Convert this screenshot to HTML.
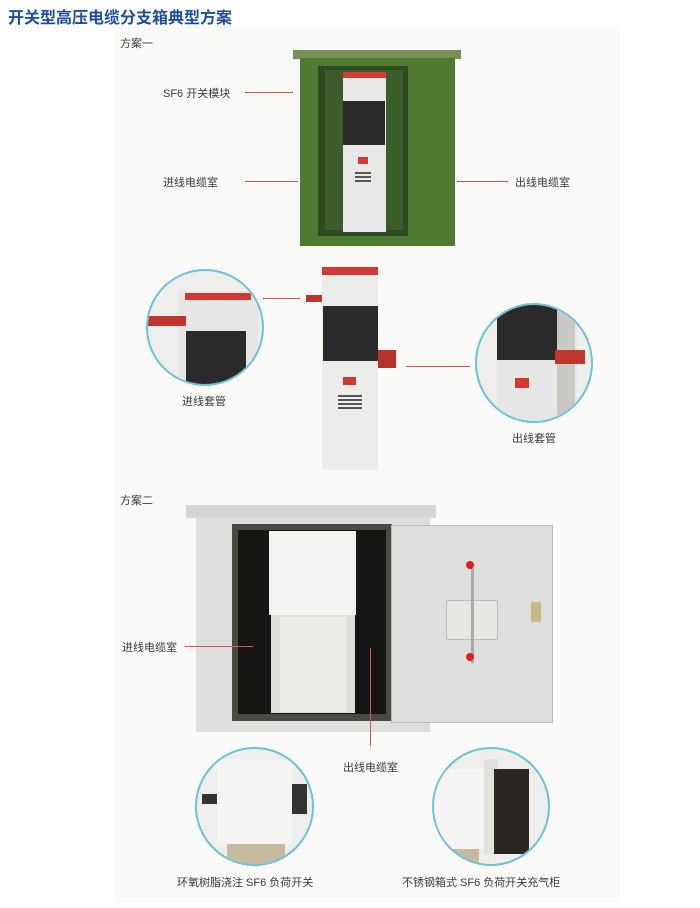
<!DOCTYPE html>
<html><head><meta charset="utf-8"><style>
*{margin:0;padding:0;box-sizing:border-box}
body{width:700px;height:908px;background:#fff;position:relative;overflow:hidden;font-family:"Liberation Sans","Noto Sans CJK SC",sans-serif;color:#333}
.a{position:absolute}
.t{position:absolute;font-size:11px;white-space:nowrap;color:#3a3a3a}
.ln{position:absolute;height:1px;background:#e05050}
.c{position:absolute;border-radius:50%;border:2px solid #6cc3d3;overflow:hidden;background:#eeeeec}
</style></head><body>
<div class="a" style="left:115px;top:27px;width:505px;height:875px;background:#fafaf8"></div>
<div class="a" style="left:8px;top:4px;font-size:16px;font-weight:bold;color:#1f4e9c;font-family:'Liberation Sans','Noto Sans CJK SC',sans-serif">开关型高压电缆分支箱典型方案</div>
<div class="t" style="left:120px;top:35px">方案一</div>

<!-- green cabinet -->
<div class="a" style="left:293px;top:50px;width:168px;height:9px;background:#7a8f56"></div>
<div class="a" style="left:300px;top:58px;width:155px;height:188px;background:#4f7a32"></div>
<div class="a" style="left:318px;top:66px;width:90px;height:170px;background:#2e4a22"></div>
<div class="a" style="left:325px;top:70px;width:78px;height:160px;background:#3c5c2a"></div>
<div class="a" style="left:343px;top:72px;width:43px;height:160px;background:#e8e8e6"></div>
<div class="a" style="left:343px;top:72px;width:43px;height:6px;background:#d23a32"></div>
<div class="a" style="left:343px;top:101px;width:42px;height:44px;background:#2a2a2a"></div>
<div class="a" style="left:358px;top:157px;width:10px;height:7px;background:#d23a32"></div>
<div class="a" style="left:355px;top:172px;width:16px;height:12px;background:repeating-linear-gradient(#555 0 2px,#e8e8e6 2px 4px)"></div>
<div class="t" style="left:163px;top:85px">SF6 开关模块</div><div class="ln" style="left:245px;top:92px;width:48px"></div>
<div class="t" style="left:163px;top:174px">进线电缆室</div><div class="ln" style="left:245px;top:181px;width:53px"></div>
<div class="t" style="left:515px;top:174px">出线电缆室</div><div class="ln" style="left:457px;top:181px;width:51px"></div>

<!-- middle white cabinet -->
<div class="a" style="left:322px;top:267px;width:56px;height:203px;background:#ececea"></div>
<div class="a" style="left:322px;top:267px;width:56px;height:8px;background:#d23a32"></div>
<div class="a" style="left:323px;top:306px;width:55px;height:55px;background:#2c2c2c"></div>
<div class="a" style="left:378px;top:350px;width:18px;height:18px;background:#b8322c"></div>
<div class="a" style="left:306px;top:295px;width:16px;height:7px;background:#c0352e"></div>
<div class="a" style="left:343px;top:377px;width:13px;height:8px;background:#d23a32"></div>
<div class="a" style="left:338px;top:395px;width:24px;height:14px;background:repeating-linear-gradient(#555 0 2px,#ececea 2px 4px)"></div>
<div class="ln" style="left:263px;top:298px;width:37px"></div>
<div class="ln" style="left:406px;top:366px;width:64px"></div>

<div class="c" style="left:146px;top:269px;width:118px;height:117px">
 <div class="a" style="left:30px;top:20px;width:80px;height:100px;background:#e6e6e4"></div>
 <div class="a" style="left:37px;top:22px;width:66px;height:7px;background:#d23a32"></div>
 <div class="a" style="left:38px;top:60px;width:60px;height:55px;background:#2a2a2a"></div>
 <div class="a" style="left:0px;top:45px;width:38px;height:10px;background:#c0352e"></div>
</div>
<div class="t" style="left:182px;top:393px">进线套管</div>
<div class="c" style="left:475px;top:303px;width:118px;height:120px">
 <div class="a" style="left:20px;top:0px;width:80px;height:118px;background:#e6e6e4"></div>
 <div class="a" style="left:20px;top:0px;width:60px;height:55px;background:#2a2a2a"></div>
 <div class="a" style="left:80px;top:0px;width:18px;height:118px;background:#c8c8c4"></div>
 <div class="a" style="left:78px;top:45px;width:30px;height:14px;background:#c0352e"></div>
 <div class="a" style="left:38px;top:73px;width:14px;height:10px;background:#d23a32"></div>
</div>
<div class="t" style="left:512px;top:430px">出线套管</div>

<div class="t" style="left:120px;top:492px">方案二</div>
<!-- gray cabinet -->
<div class="a" style="left:186px;top:505px;width:250px;height:13px;background:#d3d6d2"></div>
<div class="a" style="left:196px;top:517px;width:234px;height:215px;background:#dcdfdb"></div>
<div class="a" style="left:232px;top:524px;width:160px;height:197px;background:#4a4a44"></div>
<div class="a" style="left:238px;top:530px;width:148px;height:184px;background:#161614"></div>
<div class="a" style="left:269px;top:531px;width:87px;height:84px;background:#f2f2f0"></div>
<div class="a" style="left:271px;top:615px;width:84px;height:98px;background:#dededa"></div>
<div class="a" style="left:280px;top:617px;width:66px;height:95px;background:#ebebe8"></div>
<div class="a" style="left:391px;top:525px;width:162px;height:198px;background:#dcdfdb;border:1px solid #b8bab6"></div>
<div class="a" style="left:446px;top:600px;width:52px;height:40px;background:#e6e8e4;border:1px solid #bbb"></div>
<div class="a" style="left:471px;top:568px;width:3px;height:95px;background:#aaa"></div>
<div class="a" style="left:466px;top:561px;width:8px;height:8px;border-radius:50%;background:#e02020"></div>
<div class="a" style="left:466px;top:653px;width:8px;height:8px;border-radius:50%;background:#e02020"></div>
<div class="a" style="left:531px;top:602px;width:10px;height:20px;background:#c8b888"></div>
<div class="t" style="left:122px;top:639px">进线电缆室</div><div class="ln" style="left:185px;top:646px;width:68px"></div>
<div class="a" style="left:370px;top:648px;width:1px;height:98px;background:#e05050"></div>
<div class="t" style="left:343px;top:759px">出线电缆室</div>

<div class="c" style="left:195px;top:747px;width:119px;height:119px">
 <div class="a" style="left:20px;top:10px;width:75px;height:85px;background:#f4f4f2"></div>
 <div class="a" style="left:5px;top:45px;width:15px;height:10px;background:#333"></div>
 <div class="a" style="left:95px;top:35px;width:15px;height:30px;background:#333"></div>
 <div class="a" style="left:30px;top:95px;width:58px;height:25px;background:#c8baa0"></div>
</div>
<div class="t" style="left:177px;top:874px">环氧树脂浇注 SF6 负荷开关</div>
<div class="c" style="left:432px;top:747px;width:118px;height:119px">
 <div class="a" style="left:0px;top:20px;width:50px;height:80px;background:#f4f4f2"></div>
 <div class="a" style="left:50px;top:10px;width:14px;height:95px;background:#e0e0dc"></div>
 <div class="a" style="left:60px;top:20px;width:35px;height:85px;background:#2a2622"></div>
 <div class="a" style="left:5px;top:100px;width:40px;height:20px;background:#c8baa0"></div>
</div>
<div class="t" style="left:402px;top:874px">不锈钢箱式 SF6 负荷开关充气柜</div>
</body></html>
